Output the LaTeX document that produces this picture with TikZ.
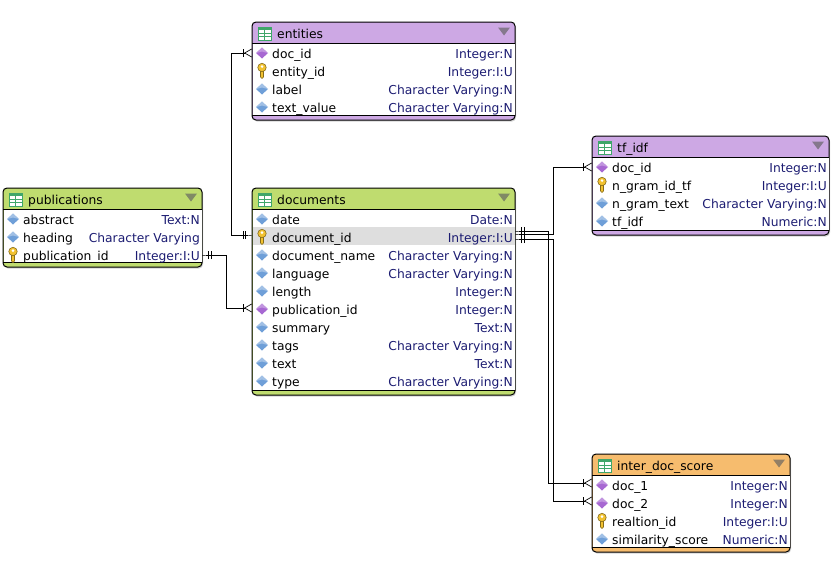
\documentclass[tikz,border=0pt]{standalone}
\usepackage{fontspec}
\setmainfont{DejaVu Sans}
\usetikzlibrary{arrows.meta,shapes.geometric,shadows}
\definecolor{hdpurple}{HTML}{CDA8E4}
\definecolor{hdgreen}{HTML}{BFDC6F}
\definecolor{hdorange}{HTML}{F6BC6E}
\definecolor{typeblue}{HTML}{1C1C72}
\definecolor{attrblue}{HTML}{6F9FD8}
\definecolor{fkpurple}{HTML}{A768D2}
\definecolor{keygold}{HTML}{F2C230}
\definecolor{rowgray}{HTML}{DEDEDE}
\definecolor{gridgreen}{HTML}{3FA66A}
\tikzset{
  erbox/.style={draw=black,line width=1pt,rounded corners=4pt,anchor=north west,inner sep=0pt,outer sep=0pt,
    drop shadow={shadow xshift=1pt,shadow yshift=-1.5pt,fill=black!35,opacity=.5}},
  errow/.style={inner sep=0pt,minimum height=18pt,outer sep=0pt},
  ername/.style={anchor=west,inner xsep=0pt,inner ysep=0pt,text height=14pt,text depth=4pt,font=\fontsize{12.3}{14}\selectfont},
  ertype/.style={anchor=east,inner xsep=2pt,inner ysep=0pt,text height=14pt,text depth=4pt,text=typeblue,font=\fontsize{12.3}{14}\selectfont},
  link/.style={line width=.9pt,black},
  onemany/.style={{Rectangle[length=4pt,width=.9pt,sep=0pt]Bar[width=8pt,line width=.7pt,sep=2pt]Bar[width=8pt,line width=.7pt,sep=2pt]}-{Bar[width=8pt,line width=.7pt,sep=0pt]Straight Barb[reversed,length=7pt,width=8pt,line width=.7pt]}},
  pics/attricon/.style={code={\fill[attrblue] (-6,0) -- (0,-5.5) -- (6,0) -- (0,5.5) -- cycle;
    \fill[white,opacity=.35] (-6,0) -- (0,-5.5) -- (6,0) -- (0,-1.5) -- cycle;}},
  pics/fkicon/.style={code={\fill[fkpurple] (-6,0) -- (0,-5.5) -- (6,0) -- (0,5.5) -- cycle;
    \fill[white,opacity=.3] (-6,0) -- (0,-5.5) -- (6,0) -- (0,-1.5) -- cycle;}},
  pics/keyicon/.style={code={\fill[keygold,draw=black!45!keygold,line width=.6pt] (-1.5,-1) -- (-1.5,6) -- (0,7.5) -- (1.5,6) -- (1.5,-1) -- cycle;
    \fill[keygold,draw=black!45!keygold,line width=.6pt] (0,-3.5) circle (4.2pt);
    \fill[white] (0,-4.4) circle (1.4pt);}},
}
% one table: name, left, top, right, bottom, colour, title
\newcommand{\ertable}[7]{%
  \node[erbox,fill=#6,minimum width={#4pt-#2pt},minimum height={#5pt-#3pt}] (#1) at (#2,#3) {};
  \fill[white] (#2+.5,#3+21) rectangle (#4-.5,#5-5);
  \draw[line width=1pt] (#2,#3+21) -- (#4,#3+21);
  \draw[line width=1pt] (#2,#5-5) -- (#4,#5-5);
  \draw[gridgreen,fill=white,line width=.9pt] (#2+6,#3+5) rectangle (#2+19,#3+18);
  \fill[gridgreen] (#2+6,#3+5) rectangle (#2+19,#3+8);
  \draw[gridgreen,line width=.7pt] (#2+6,#3+11.5) -- (#2+19,#3+11.5) (#2+6,#3+14.8) -- (#2+19,#3+14.8) (#2+12.5,#3+5) -- (#2+12.5,#3+18);
  \fill[#6!45!black!75] (#4-17,#3+5.5) -- (#4-5,#3+5.5) -- (#4-11,#3+13.5) -- cycle;
  \node[ername] (#1title) at (#2+25,#3+11) {#7};
}
% one row: name, left, right, y, icon, text, type
\newcommand{\errow}[7]{%
  \node[errow,minimum width={#3pt-#2pt}] (#1) at ({(#2+#3)/2},#4) {};
  \pic (#1icon) at (#2+10,#4) {#5};
  \node[ername] (#1name) at (#2+20,#4) {#6};
  \node[ertype] (#1type) at (#3,#4) {#7};
}
\begin{document}
\begin{tikzpicture}[x=1pt,y=-1pt]
  \useasboundingbox (0,0) rectangle (833,573);

  \ertable{entities}{252}{22}{515}{120}{hdpurple}{entities}
  \errow{entdocid}{252}{515}{53}{fkicon}{doc\_id}{Integer:N}
  \errow{entityid}{252}{515}{71}{keyicon}{entity\_id}{Integer:I:U}
  \errow{entlabel}{252}{515}{89}{attricon}{label}{Character Varying:N}
  \errow{enttext}{252}{515}{107}{attricon}{text\_value}{Character Varying:N}

  \ertable{publications}{3}{188}{202}{267}{hdgreen}{publications}
  \errow{pubabstract}{3}{202}{219}{attricon}{abstract}{Text:N}
  \errow{pubheading}{3}{202}{237}{attricon}{heading}{Character Varying}
  \errow{pubid}{3}{202}{255}{keyicon}{publication\_id}{Integer:I:U}

  \ertable{documents}{252}{188}{515}{395}{hdgreen}{documents}
  \fill[rowgray] (252.5,227) rectangle (514.5,245);
  \errow{docdate}{252}{515}{219}{attricon}{date}{Date:N}
  \errow{docid}{252}{515}{237}{keyicon}{document\_id}{Integer:I:U}
  \errow{docname}{252}{515}{255}{attricon}{document\_name}{Character Varying:N}
  \errow{doclang}{252}{515}{273}{attricon}{language}{Character Varying:N}
  \errow{doclength}{252}{515}{291}{attricon}{length}{Integer:N}
  \errow{docpubid}{252}{515}{309}{fkicon}{publication\_id}{Integer:N}
  \errow{docsummary}{252}{515}{327}{attricon}{summary}{Text:N}
  \errow{doctags}{252}{515}{345}{attricon}{tags}{Character Varying:N}
  \errow{doctext}{252}{515}{363}{attricon}{text}{Text:N}
  \errow{doctype}{252}{515}{381}{attricon}{type}{Character Varying:N}

  \ertable{tfidf}{592}{136}{829}{235}{hdpurple}{tf\_idf}
  \errow{tfdocid}{592}{829}{167}{fkicon}{doc\_id}{Integer:N}
  \errow{tfgramid}{592}{829}{185}{keyicon}{n\_gram\_id\_tf}{Integer:I:U}
  \errow{tfgramtext}{592}{829}{203}{attricon}{n\_gram\_text}{Character Varying:N}
  \errow{tfvalue}{592}{829}{221}{attricon}{tf\_idf}{Numeric:N}

  \ertable{interdoc}{592}{454}{790}{552}{hdorange}{inter\_doc\_score}
  \errow{interone}{592}{790}{485}{fkicon}{doc\_1}{Integer:N}
  \errow{intertwo}{592}{790}{503}{fkicon}{doc\_2}{Integer:N}
  \errow{interid}{592}{790}{521}{keyicon}{realtion\_id}{Integer:I:U}
  \errow{interscore}{592}{790}{539}{attricon}{similarity\_score}{Numeric:N}

  % connectors
  \draw[link,onemany] ([yshift=2pt]docid.west) -- ++(-21,0) |- (entdocid.west);
  \draw[link,onemany] (pubid.east) -- ++(24,0) |- ([yshift=1pt]docpubid.west);
  \draw[link,onemany] ([yshift=3pt]docid.east) -- ++(38,0) |- (tfdocid.west);
  \draw[link,onemany] ([yshift=6pt]docid.east) -- ++(33,0) |- ([yshift=2pt]interone.west);
  \draw[link,onemany] ([yshift=-2pt]docid.east) -- ++(38,0) |- ([yshift=2pt]intertwo.west);
\end{tikzpicture}
\end{document}
